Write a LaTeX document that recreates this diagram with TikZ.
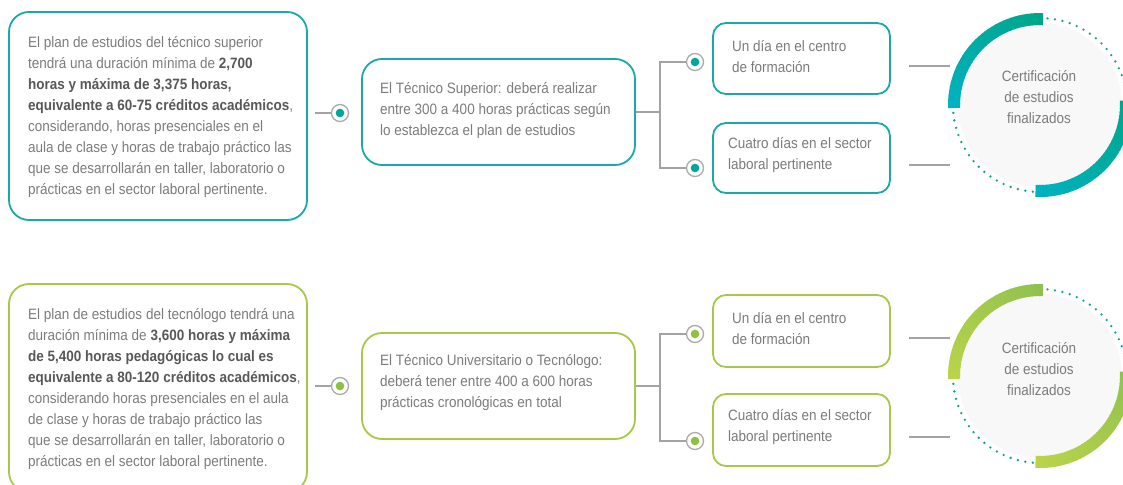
\documentclass[tikz,border=0pt]{standalone}
\usepackage{fontspec}
\setmainfont{Liberation Sans}[FakeStretch=0.9]
\definecolor{txtgray}{HTML}{7C7C7C}
\definecolor{boldgray}{HTML}{585858}
\definecolor{linegray}{HTML}{A3A3A3}
\definecolor{ringgray}{HTML}{ABABAB}
\definecolor{tealB}{HTML}{1AA9A6}
\definecolor{tealD}{HTML}{00A89C}
\definecolor{tealG}{HTML}{00A58A}
\definecolor{tealC}{HTML}{00B2C0}
\definecolor{limeB}{HTML}{A6C94C}
\definecolor{limeD}{HTML}{8DC13F}
\definecolor{limeG}{HTML}{90C150}
\definecolor{limeL}{HTML}{BAD44A}
\definecolor{dotgreen}{HTML}{12A388}
\definecolor{discgray}{HTML}{F8F8F8}
\newcommand{\bt}[1]{{\bfseries\color{boldgray}#1}}
% ring arc made of short pieces so its colour runs from #5 to #6
% #1 centre, #2 radius, #3 start angle, #4 end angle
\newcommand{\gradarc}[6]{%
  \foreach \k in {0,...,35}{%
    \pgfmathsetmacro{\aa}{#3+(#4-#3)*\k/36}%
    \pgfmathsetmacro{\ab}{#3+(#4-#3)*(\k+1)/36+0.6*sign(#4-#3)*(\k<35)}%
    \pgfmathtruncatemacro{\mix}{100-100*\k/35}%
    \draw[line width=12pt, #5!\mix!#6] ($(#1)+(\aa:#2)$) arc[start angle=\aa, end angle=\ab, radius=#2];
  }}
\usetikzlibrary{calc}
\begin{document}
\begin{tikzpicture}[x=1pt,y=-1pt,
  box/.style={draw, line width=1.8pt, fill=white, inner sep=0pt},
  bigbox/.style={box, rounded corners=20pt},
  smallbox/.style={box, rounded corners=13pt, minimum width=177pt},
  txt/.style={text=txtgray, align=left, inner sep=0pt, font=\fontsize{15}{21}\selectfont},
  ctxt/.style={txt, align=center},
  link/.style={draw=linegray, line width=1.5pt},
  knob/.style={circle, draw=ringgray, line width=1.3pt, fill=white, minimum size=17pt, inner sep=0pt,
    path picture={\fill[#1] (path picture bounding box.center) circle (4.3pt);}},
  dotring/.style={dotgreen, line width=2.6pt, line cap=round, dash pattern=on 0pt off 7.6pt},
]
\useasboundingbox (0,0) rectangle (1123,484);
\clip (0,0) rectangle (1123,484);
\fill[white] (0,0) rectangle (1123,484);

% ---------------- upper row: técnico superior ----------------
\node[bigbox, draw=tealB, minimum width=298pt, minimum height=208pt] (planT) at (158,116) {};
\node[txt, anchor=west] (planTtxt) at (28,117) {El plan de estudios del técnico superior\\
tendrá una duración mínima de \bt{2,700}\\
\bt{horas y máxima de 3,375 horas,}\\
\bt{equivalente a 60-75 créditos académicos},\\
considerando, horas presenciales en el\\
aula de clase y horas de trabajo práctico las\\
que se desarrollarán en taller, laboratorio o\\
prácticas en el sector laboral pertinente.};

\node[knob=tealD] (inT) at (340,113) {};
\coordinate (inTstart) at (315,113);
\draw[link] (inTstart) -- (inT.west);

\node[bigbox, draw=tealB, minimum width=273pt, minimum height=106pt] (midT) at (498.5,112) {};
\node[txt, anchor=west] (midTtxt) at (380,111) {El Técnico Superior: deberá realizar\\
entre 300 a 400 horas prácticas según\\
lo establezca el plan de estudios};

\node[knob=tealD] (brTa) at (695,62) {};
\node[knob=tealD] (brTb) at (695,168) {};
\draw[link] (midT.east) -- ++(24,0) coordinate (forkT);
\draw[link] (forkT) |- (brTa.west);
\draw[link] (forkT) |- (brTb.west);

\node[smallbox, draw=tealB, minimum height=71pt] (dayT) at (801.5,58.5) {};
\node[txt, anchor=west] (dayTtxt) at (732,57) {Un día en el centro\\de formación};
\node[smallbox, draw=tealB, minimum height=70pt] (weekT) at (801.5,158) {};
\node[txt, anchor=west] (weekTtxt) at (728,155.5) {Cuatro días en el sector\\laboral pertinente};

\coordinate (certT) at (1040,105);
\coordinate (ldT1) at (909,66);  \coordinate (ldT2) at (950,66);
\coordinate (ldT3) at (909,165); \coordinate (ldT4) at (950,165);
\draw[link] (ldT1) -- (ldT2);
\draw[link] (ldT3) -- (ldT4);
\fill[discgray] (certT) circle (82pt);
\draw[dotring] (certT) circle (87pt);
\gradarc{certT}{86}{178}{272}{tealC}{tealG}
\gradarc{certT}{86}{-3}{93}{tealG}{tealC}
\node[ctxt] (certTtxt) at (1039,97) {Certificación\\de estudios\\finalizados};

% ---------------- lower row: técnico universitario / tecnólogo ----------------
\node[bigbox, draw=limeB, minimum width=298pt, minimum height=208pt] (planG) at (158,388) {};
\node[txt, anchor=west] (planGtxt) at (28,389.5) {El plan de estudios del tecnólogo tendrá una\\
duración mínima de \bt{3,600 horas y máxima}\\
\bt{de 5,400 horas pedagógicas lo cual es}\\
\bt{equivalente a 80-120 créditos académicos},\\
considerando horas presenciales en el aula\\
de clase y horas de trabajo práctico las\\
que se desarrollarán en taller, laboratorio o\\
prácticas en el sector laboral pertinente.};

\node[knob=limeD] (inG) at (340,386) {};
\coordinate (inGstart) at (315,386);
\draw[link] (inGstart) -- (inG.west);

\node[bigbox, draw=limeB, minimum width=273pt, minimum height=106pt] (midG) at (498.5,386) {};
\node[txt, anchor=west] (midGtxt) at (380,383) {El Técnico Universitario o Tecnólogo:\\
deberá tener entre 400 a 600 horas\\
prácticas cronológicas en total};

\node[knob=limeD] (brGa) at (695,334) {};
\node[knob=limeD] (brGb) at (695,441) {};
\draw[link] (midG.east) -- ++(24,0) coordinate (forkG);
\draw[link] (forkG) |- (brGa.west);
\draw[link] (forkG) |- (brGb.west);

\node[smallbox, draw=limeB, minimum height=72pt] (dayG) at (801.5,331) {};
\node[txt, anchor=west] (dayGtxt) at (732,328.5) {Un día en el centro\\de formación};
\node[smallbox, draw=limeB, minimum height=72pt] (weekG) at (801.5,430) {};
\node[txt, anchor=west] (weekGtxt) at (728,427.5) {Cuatro días en el sector\\laboral pertinente};

\coordinate (certG) at (1040,376);
\coordinate (ldG1) at (909,338); \coordinate (ldG2) at (950,338);
\coordinate (ldG3) at (909,437); \coordinate (ldG4) at (950,437);
\draw[link] (ldG1) -- (ldG2);
\draw[link] (ldG3) -- (ldG4);
\fill[discgray] (certG) circle (82pt);
\draw[dotring] (certG) circle (87pt);
\gradarc{certG}{86}{178}{272}{limeL}{limeG}
\gradarc{certG}{86}{-3}{93}{limeG}{limeL}
\node[ctxt] (certGtxt) at (1039,369) {Certificación\\de estudios\\finalizados};
\end{tikzpicture}
\end{document}
